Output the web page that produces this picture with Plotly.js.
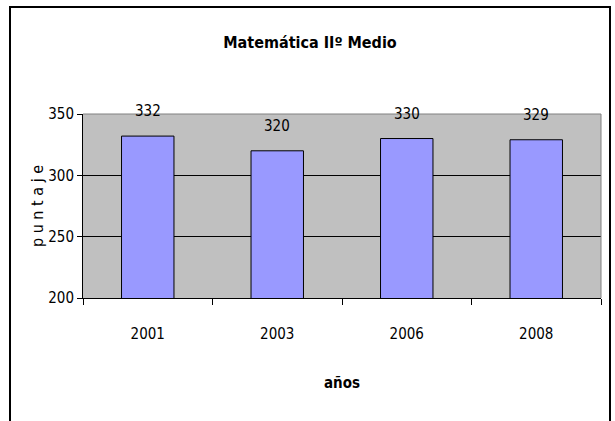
<!DOCTYPE html>
<html>
<head>
<meta charset="utf-8">
<script src="https://cdn.plot.ly/plotly-3.0.1.min.js"></script>
<style>
html,body{margin:0;padding:0;background:#fff;overflow:hidden;}
#chart{width:615px;height:421px;}
</style>
</head>
<body>
<div id="chart"></div>
<script>
const years = ['2001', '2003', '2006', '2008'];
const scores = [332, 320, 330, 329];
const yTicks = [200, 250, 300, 350];

const FONT = '"Liberation Sans Narrow", "DejaVu Sans Condensed", "Liberation Sans", sans-serif';

const annotations = years.map((y, i) => ({
  x: i, y: scores[i], xref: 'x', yref: 'y',
  text: String(scores[i]), showarrow: false,
  yanchor: 'middle', yshift: 25,
  font: {family: FONT, size: 15, color: '#000'}
}));

const W = 615, H = 421, L = 83, R = 14, T = 114, B = 123;
const pw = W - L - R, ph = H - T - B;
const px = v => (v - L) / pw;
const py = v => (H - B - v) / ph;

const layout = {
  width: W, height: H,
  margin: {l: L, r: R, t: T, b: B, pad: 0},
  paper_bgcolor: '#fff',
  plot_bgcolor: '#C0C0C0',
  showlegend: false,
  bargap: 0.595,
  title: {
    text: '<b>Matemática IIº Medio</b>',
    font: {family: FONT, size: 16, color: '#000'},
    x: px(310), xref: 'paper', xanchor: 'center',
    y: 1 - 42 / H, yanchor: 'middle'
  },
  xaxis: {
    type: 'category',
    range: [-0.5, years.length - 0.5],
    autorange: false,
    showline: true, linecolor: '#000', linewidth: 1,
    ticks: 'outside', ticklen: 6, tickcolor: '#000', tickwidth: 1,
    tickson: 'boundaries',
    tickangle: 0,
    showgrid: false, zeroline: false,
    ticklabelstandoff: 22,
    tickfont: {family: FONT, size: 15, color: '#000'},
    title: {text: '<b>años</b>', font: {family: FONT, size: 15, color: '#000'}, standoff: 35}
  },
  yaxis: {
    range: [200, 350],
    autorange: false,
    tickvals: yTicks,
    ticktext: yTicks.map(String),
    showline: true, linecolor: '#000', linewidth: 1,
    ticks: 'outside', ticklen: 5, tickcolor: '#000', tickwidth: 1,
    showgrid: true, gridcolor: '#000', gridwidth: 1,
    zeroline: false,
    tickfont: {family: FONT, size: 15, color: '#000'},
    title: {text: 'p u n t a j e', font: {family: FONT, size: 16, color: '#000'}, standoff: 0}
  },
  annotations: annotations,
  shapes: [
    {type: 'path', xref: 'paper', yref: 'paper', path: 'M 0 1 L 1 1 L 1 0',
     line: {color: '#808080', width: 1}, layer: 'above'},
    {type: 'rect', xref: 'paper', yref: 'paper',
     x0: px(10), x1: px(610), y0: py(440), y1: py(7),
     line: {color: '#000', width: 2}, fillcolor: 'rgba(0,0,0,0)', layer: 'above'}
  ]
};

const data = [{
  type: 'bar',
  x: years,
  y: scores,
  marker: {color: '#9999FF', line: {color: '#000', width: 1}},
  cliponaxis: true,
  hoverinfo: 'none'
}];

Plotly.newPlot('chart', data, layout, {staticPlot: true, displayModeBar: false});
</script>
</body>
</html>
